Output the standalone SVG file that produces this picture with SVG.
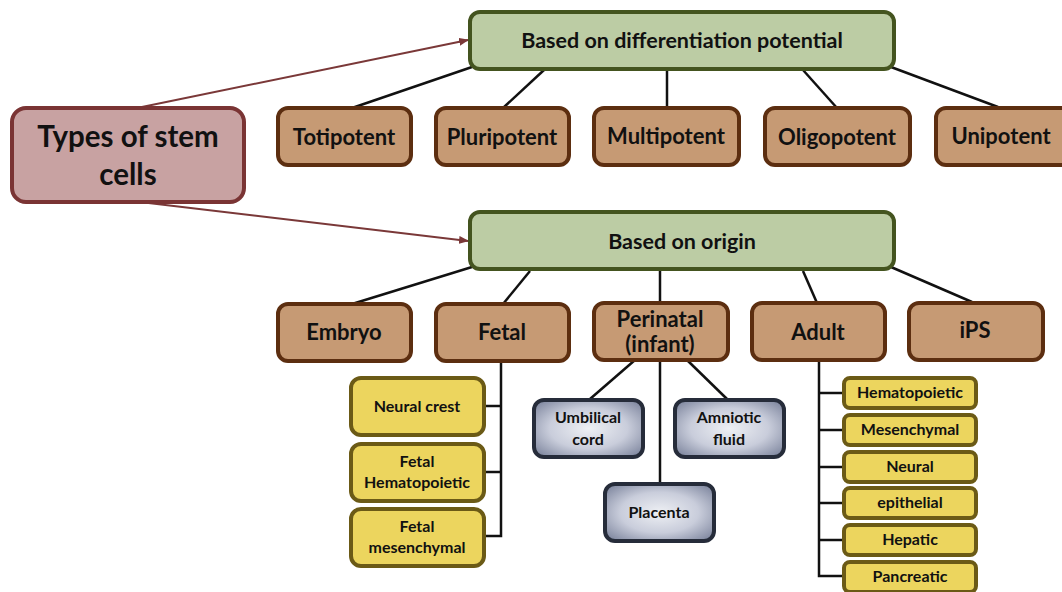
<svg xmlns="http://www.w3.org/2000/svg" width="1062" height="592" viewBox="0 0 1062 592">
<defs>
<style>
text{font-family:Lato,"Open Sans","Liberation Sans",sans-serif;font-weight:bold;fill:#111;text-anchor:middle}
.root rect{fill:#c8a2a2;stroke:#7a3434;stroke-width:4}
.green rect{fill:#bccca4;stroke:#44541f;stroke-width:4}
.brown rect{fill:#c69a74;stroke:#5c2e10;stroke-width:4}
.yellow rect{fill:#ecd55e;stroke:#6b5a16;stroke-width:4}
.blue rect{fill:url(#bg);stroke:#262c3a;stroke-width:4}
.conn line,.conn polyline{stroke:#111;stroke-width:2.5;fill:none}
.conn .arr{stroke:#7a3838;stroke-width:2;marker-end:url(#ah)}
.t20{font-size:22px}.t19{font-size:21.5px}.t16{font-size:16px}.t15{font-size:16px}
</style>
<radialGradient id="bg" cx="50%" cy="50%" r="65%">
<stop offset="0" stop-color="#eef0f4"/><stop offset="0.55" stop-color="#c9cddb"/><stop offset="1" stop-color="#7f879f"/>
</radialGradient>
<marker id="ah" markerWidth="10" markerHeight="8" refX="9" refY="4" orient="auto" markerUnits="userSpaceOnUse">
<path d="M0,0 L10,4 L0,8 z" fill="#7a3838"/>
</marker>
</defs>
<rect width="1062" height="592" fill="#fff"/>
<g id="connectors" class="conn">
<line class="arr" x1="137" y1="108" x2="468" y2="40"/>
<line class="arr" x1="140" y1="202" x2="468" y2="241"/>
<line x1="472" y1="67" x2="352" y2="108"/>
<line x1="544" y1="70" x2="503" y2="108"/>
<line x1="667" y1="70" x2="667" y2="108"/>
<line x1="803" y1="70" x2="837" y2="108"/>
<line x1="891" y1="67" x2="998" y2="107"/>
<line x1="472" y1="267" x2="352" y2="304"/>
<line x1="530" y1="271" x2="503" y2="304"/>
<line x1="660" y1="271" x2="660" y2="303"/>
<line x1="803" y1="271" x2="817" y2="303"/>
<line x1="891" y1="267" x2="972" y2="302"/>
<polyline points="501,361 501,536 484,536"/>
<line x1="484" y1="406" x2="501" y2="406"/>
<line x1="484" y1="472" x2="501" y2="472"/>
<line x1="635" y1="360" x2="590" y2="399"/>
<line x1="660" y1="360" x2="660" y2="483"/>
<line x1="687" y1="360" x2="727" y2="399"/>
<polyline points="819,361 819,576 843,576"/>
<line x1="819" y1="393" x2="843" y2="393"/>
<line x1="819" y1="430" x2="843" y2="430"/>
<line x1="819" y1="467" x2="843" y2="467"/>
<line x1="819" y1="503" x2="843" y2="503"/>
<line x1="819" y1="540" x2="843" y2="540"/>
</g>
<g id="root" class="root"><rect x="12" y="108" width="232" height="94" rx="14"/><text x="128" y="147" style="font-size:29.5px">Types of stem</text><text x="128" y="185" style="font-size:29.5px">cells</text></g>
<g id="diff" class="green"><rect x="470" y="12" width="424" height="57" rx="10"/><text class="t19" x="682" y="48">Based on differentiation potential</text></g>
<g id="origin" class="green"><rect x="470" y="212" width="424" height="57" rx="10"/><text class="t19" x="682" y="249">Based on origin</text></g>
<g id="totipotent" class="brown"><rect x="278" y="108" width="133" height="57" rx="10"/><text class="t20" x="344" y="145">Totipotent</text></g>
<g id="pluripotent" class="brown"><rect x="436" y="108" width="133" height="57" rx="10"/><text class="t20" x="502" y="145">Pluripotent</text></g>
<g id="multipotent" class="brown"><rect x="594" y="108" width="145" height="57" rx="10"/><text class="t20" x="666" y="144">Multipotent</text></g>
<g id="oligopotent" class="brown"><rect x="765" y="108" width="145" height="57" rx="10"/><text class="t20" x="837" y="145">Oligopotent</text></g>
<g id="unipotent" class="brown"><rect x="936" y="108" width="140" height="57" rx="10"/><text class="t20" x="1001" y="144">Unipotent</text></g>
<g id="embryo" class="brown"><rect x="278" y="304" width="133" height="57" rx="10"/><text class="t20" x="344" y="340">Embryo</text></g>
<g id="fetal" class="brown"><rect x="436" y="304" width="133" height="57" rx="10"/><text class="t20" x="502" y="340">Fetal</text></g>
<g id="perinatal" class="brown"><rect x="594" y="303" width="134" height="57" rx="10"/><text class="t20" x="660" y="327">Perinatal</text><text class="t20" x="660" y="352">(infant)</text></g>
<g id="adult" class="brown"><rect x="752" y="303" width="133" height="57" rx="10"/><text class="t20" x="818" y="340">Adult</text></g>
<g id="ips" class="brown"><rect x="909" y="303" width="134" height="57" rx="10"/><text class="t20" x="975" y="338">iPS</text></g>
<g id="neural-crest" class="yellow"><rect x="351" y="378" width="133" height="57" rx="10"/><text class="t16" x="417" y="412">Neural crest</text></g>
<g id="fetal-hemato" class="yellow"><rect x="351" y="444" width="133" height="57" rx="10"/><text class="t16" x="417" y="467">Fetal</text><text class="t16" x="417" y="488">Hematopoietic</text></g>
<g id="fetal-mesen" class="yellow"><rect x="351" y="509" width="133" height="57" rx="10"/><text class="t16" x="417" y="532">Fetal</text><text class="t16" x="417" y="553">mesenchymal</text></g>
<g id="umbilical" class="blue"><rect x="534" y="400" width="109" height="57" rx="10"/><text class="t16" x="588" y="423">Umbilical</text><text class="t16" x="588" y="445">cord</text></g>
<g id="amniotic" class="blue"><rect x="675" y="400" width="109" height="57" rx="10"/><text class="t16" x="729" y="423">Amniotic</text><text class="t16" x="729" y="445">fluid</text></g>
<g id="placenta" class="blue"><rect x="605" y="484" width="109" height="57" rx="10"/><text class="t16" x="659" y="518">Placenta</text></g>
<g id="hematopoietic" class="yellow"><rect x="844" y="378" width="132" height="30" rx="6"/><text class="t15" x="910" y="398">Hematopoietic</text></g>
<g id="mesenchymal" class="yellow"><rect x="844" y="415" width="132" height="30" rx="6"/><text class="t15" x="910" y="435">Mesenchymal</text></g>
<g id="neural" class="yellow"><rect x="844" y="452" width="132" height="30" rx="6"/><text class="t15" x="910" y="472">Neural</text></g>
<g id="epithelial" class="yellow"><rect x="844" y="488" width="132" height="30" rx="6"/><text class="t15" x="910" y="508">epithelial</text></g>
<g id="hepatic" class="yellow"><rect x="844" y="525" width="132" height="30" rx="6"/><text class="t15" x="910" y="545">Hepatic</text></g>
<g id="pancreatic" class="yellow"><rect x="844" y="562" width="132" height="30" rx="6"/><text class="t15" x="910" y="582">Pancreatic</text></g>
</svg>
